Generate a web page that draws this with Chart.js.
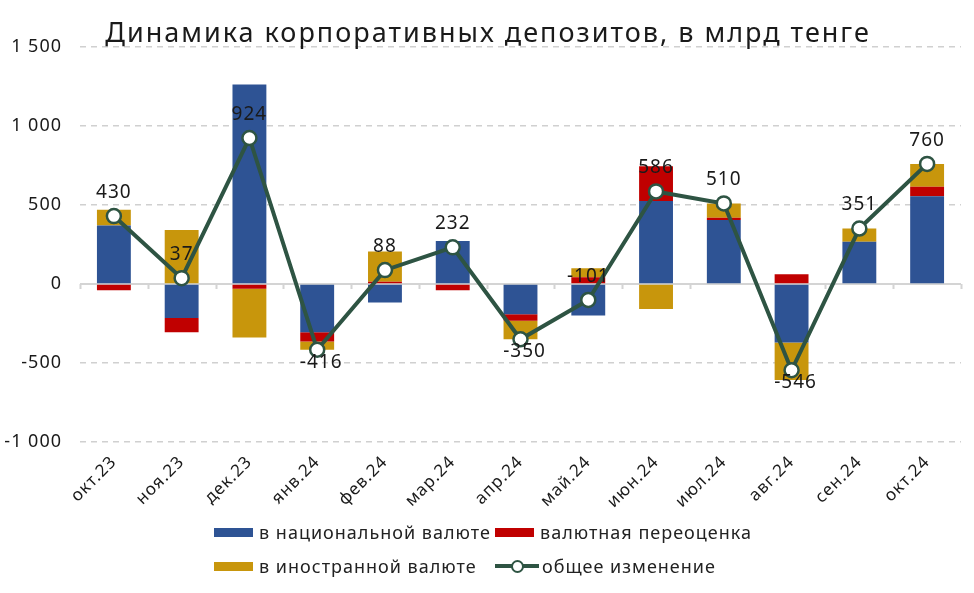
<!DOCTYPE html>
<html><head><meta charset="utf-8">
<script src="https://cdn.jsdelivr.net/npm/chart.js@4"></script>
<style>
html,body{margin:0;padding:0;background:#fff;}
#wrap{position:relative;width:974px;height:593px;overflow:hidden;}
#c{position:absolute;left:0;top:0;}
#legend{position:absolute;left:214px;top:515px;font-family:"Noto Sans",sans-serif;font-size:18px;color:#222;letter-spacing:1px;}
.row{display:flex;height:34px;align-items:center;}
.item{display:flex;align-items:center;}
.c1{width:281px;}
.sw{width:39px;height:9px;margin-right:6px;}
.ln{position:relative;width:44px;height:12px;margin-right:3px;}
.ln:before{content:"";position:absolute;left:0;right:0;top:4px;height:4px;background:#2E5443;}
.ln:after{content:"";position:absolute;left:16px;top:0;width:9px;height:9px;border:2px solid #2E5443;border-radius:50%;background:#fff;}
</style></head>
<body><div id="wrap"><canvas id="c" width="974" height="593"></canvas>
<div id="legend"></div></div>
<script>
const categories = ['окт.23','ноя.23','дек.23','янв.24','фев.24','мар.24','апр.24','май.24','июн.24','июл.24','авг.24','сен.24','окт.24'];
const nationalCurrency = [370, -215, 1262, -306, -117, 272, -192, -200, 525, 405, -370, 268, 555];
const revaluation = [-40, -90, -30, -58, 15, -40, -40, 42, 220, 15, 62, 0, 60];
const foreignCurrency = [100, 342, -308, -52, 190, 0, -118, 57, -159, 90, -238, 83, 145];
const totalChange = [430, 37, 924, -416, 88, 232, -350, -101, 586, 510, -546, 351, 760];
const seriesNames = ['в национальной валюте','валютная переоценка','в иностранной валюте','общее изменение'];
const yTickValues = [1500, 1000, 500, 0, -500, -1000];
const titleText = 'Динамика корпоративных депозитов, в млрд тенге';

const COLORS = {blue:'#2E5394', red:'#C00000', gold:'#C8960C', line:'#2E5443'};
const FONT = '"Noto Sans", sans-serif';

// legend (HTML)
(function(){
  const L = document.getElementById('legend');
  L.innerHTML =
   '<div class="row"><div class="item c1"><div class="sw" style="background:'+COLORS.blue+'"></div>'+seriesNames[0]+'</div>'+
   '<div class="item"><div class="sw" style="background:'+COLORS.red+'"></div>'+seriesNames[1]+'</div></div>'+
   '<div class="row"><div class="item c1"><div class="sw" style="background:'+COLORS.gold+'"></div>'+seriesNames[2]+'</div>'+
   '<div class="item"><div class="ln"></div>'+seriesNames[3]+'</div></div>';
})();

function fmt(v){
  const s = Math.abs(v).toString();
  const t = s.length > 3 ? s.slice(0, s.length-3) + ' ' + s.slice(-3) : s;
  return (v < 0 ? '-' : '') + t;
}

const extras = {
  id:'extras',
  beforeDraw(chart){
    chart.ctx.letterSpacing = '1px';
  },
  beforeDatasetsDraw(chart){
    const {ctx, chartArea:a, scales:{x,y}} = chart;
    const y0 = y.getPixelForValue(0);
    ctx.save();
    ctx.strokeStyle = '#D4D4D4';
    ctx.lineWidth = 2;
    ctx.beginPath();
    ctx.moveTo(a.left, y0); ctx.lineTo(a.right, y0);
    const step = (a.right - a.left) / categories.length;
    for (let i = 0; i <= categories.length; i++) {
      const px = Math.round(a.left + i*step) + 0.5;
      ctx.moveTo(px, y0); ctx.lineTo(px, y0 + 5);
    }
    ctx.stroke();
    ctx.restore();
  },
  afterDatasetsDraw(chart){
    const {ctx} = chart;
    const meta = chart.getDatasetMeta(3);
    ctx.save();
    ctx.letterSpacing = '1px';
    ctx.font = '19px ' + FONT;
    ctx.fillStyle = '#1a1a1a';
    ctx.textAlign = 'center';
    meta.data.forEach((pt, i) => {
      const v = totalChange[i];
      if (v < -200) { ctx.textBaseline = 'top'; ctx.fillText(fmt(v), pt.x + 4, pt.y + 3); }
      else { ctx.textBaseline = 'bottom'; ctx.fillText(fmt(v), pt.x, pt.y - 14); }
    });
    ctx.restore();
  },
  afterDraw(chart){
    const {ctx} = chart;
    ctx.save();
    ctx.letterSpacing = '2px';
    ctx.font = '27px ' + FONT;
    ctx.fillStyle = '#1a1a1a';
    ctx.textAlign = 'center';
    ctx.textBaseline = 'alphabetic';
    ctx.fillText(titleText, 488, 42);
    ctx.restore();
  }
};

new Chart(document.getElementById('c'), {
  data: {
    labels: categories,
    datasets: [
      {type:'bar', label:seriesNames[0], data:nationalCurrency, backgroundColor:COLORS.blue, order:1, stack:'s', categoryPercentage:1, barPercentage:0.5},
      {type:'bar', label:seriesNames[1], data:revaluation, backgroundColor:COLORS.red, order:1, stack:'s', categoryPercentage:1, barPercentage:0.5},
      {type:'bar', label:seriesNames[2], data:foreignCurrency, backgroundColor:COLORS.gold, order:1, stack:'s', categoryPercentage:1, barPercentage:0.5},
      {type:'line', label:seriesNames[3], data:totalChange, borderColor:COLORS.line, borderWidth:4, pointRadius:7, pointBorderWidth:2.5,
       pointBackgroundColor:'#fff', pointBorderColor:COLORS.line, order:0, stack:'line', tension:0}
    ]
  },
  options: {
    responsive:false, animation:false,
    layout:{padding:{top:47, right:13, bottom:81, left:0}},
    plugins:{legend:{display:false}, title:{display:false}, tooltip:{enabled:false}},
    scales:{
      x:{stacked:true, offset:true,
         grid:{display:false}, border:{display:false},
         ticks:{minRotation:45, maxRotation:45, color:'#1a1a1a', font:{family:FONT, size:17}, padding:2},
         afterFit(s){ s.height = 70; }},
      y:{stacked:true, min:-1000, max:1500,
         afterBuildTicks(s){ s.ticks = yTickValues.map(v => ({value:v})); },
         grid:{color:(c)=> c.tick && c.tick.value === 0 ? 'rgba(0,0,0,0)' : '#D0D0D0', lineWidth:1.5, drawTicks:false},
         border:{display:false, dash:[6,5]},
         ticks:{color:'#1a1a1a', font:{family:FONT, size:18}, padding:18, callback:(v)=>fmt(v)},
         afterFit(s){ s.width = 80; }}
    }
  },
  plugins:[extras]
});
</script></body></html>
